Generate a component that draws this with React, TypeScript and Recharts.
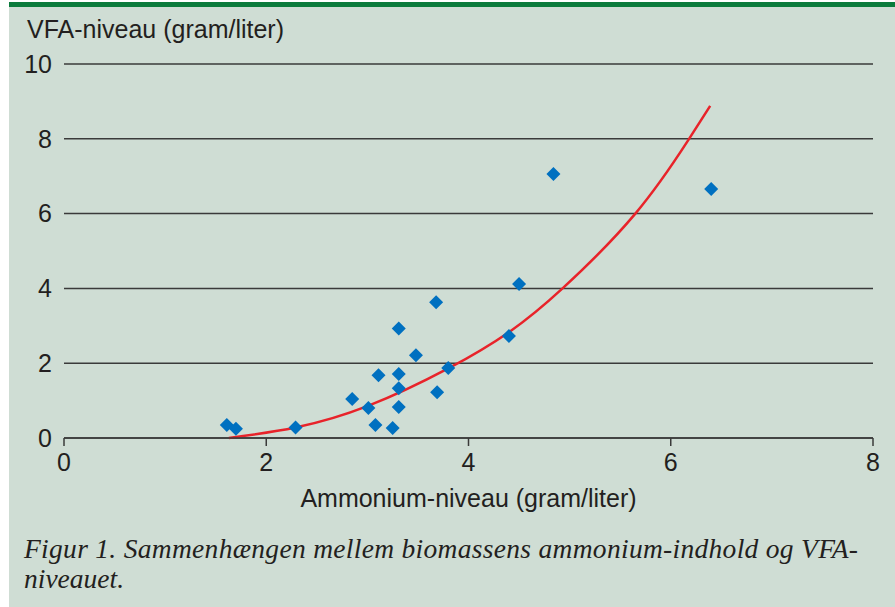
import {
  ComposedChart,
  Scatter,
  Line,
  XAxis,
  YAxis,
  CartesianGrid,
} from "recharts";

// measured points: ammonium (x) vs VFA (y), g/l
const ammonium = [
  1.61, 1.7, 2.29, 2.85, 3.01, 3.08, 3.11, 3.25, 3.31, 3.31, 3.31, 3.31, 3.48,
  3.68, 3.69, 3.8, 4.4, 4.5, 4.84, 6.4,
];
const vfa = [
  0.35, 0.25, 0.28, 1.04, 0.8, 0.35, 1.68, 0.27, 2.93, 1.71, 1.33, 0.83, 2.21,
  3.63, 1.22, 1.87, 2.73, 4.12, 7.06, 6.66,
];

// trend line
const trendX = [1.63, 2.29, 3.0, 3.8, 4.41, 4.93, 5.65, 6.17, 6.39];
const trendY = [0.0, 0.28, 0.85, 1.86, 2.85, 4.0, 6.0, 7.95, 8.88];

const xTicks = [0, 2, 4, 6, 8];
const yTicks = [0, 2, 4, 6, 8, 10];

const points = ammonium.map((x, i) => ({ x, y: vfa[i] }));
const trend = trendX.map((x, i) => ({ x, y: trendY[i] }));

const FONT = '"Liberation Sans", Arial, Helvetica, sans-serif';
const SERIF = '"Liberation Serif", "Times New Roman", serif';
const INK = "#231f20";

function Diamond(props: any) {
  const { cx, cy } = props;
  const r = 7;
  return (
    <polygon
      points={`${cx},${cy - r} ${cx + r},${cy} ${cx},${cy + r} ${cx - r},${cy}`}
      fill="#0070c0"
    />
  );
}

export default function App() {
  return (
    <div
      style={{
        position: "absolute",
        left: 0,
        top: 0,
        width: 895,
        height: 607,
        background: "#ffffff",
      }}
    >
      <svg
        width={895}
        height={607}
        style={{ position: "absolute", left: 0, top: 0 }}
      >
        <rect x={9} y={7} width={886} height={600} fill="#cfddd4" />
        <rect x={9} y={2} width={886} height={5} fill="#0b7b3c" />
        <text x={27} y={38} fontFamily={FONT} fontSize={25} fill={INK}>
          VFA-niveau (gram/liter)
        </text>
        <text
          x={24}
          y={558}
          fontFamily={SERIF}
          fontStyle="italic"
          fontSize={27.5}
          fill={INK}
          textLength={834}
          lengthAdjust="spacing"
        >
          Figur 1. Sammenhængen mellem biomassens ammonium-indhold og VFA-
        </text>
        <text
          x={24}
          y={588}
          fontFamily={SERIF}
          fontStyle="italic"
          fontSize={27.5}
          fill={INK}
        >
          niveauet.
        </text>
      </svg>
      <div style={{ position: "absolute", left: 0, top: 0 }}>
        <ComposedChart
          width={895}
          height={607}
          margin={{ top: 64, right: 22, bottom: 94, left: 10 }}
        >
          <CartesianGrid
            vertical={false}
            stroke="#3a3a3a"
            strokeWidth={1.5}
          />
          <XAxis
            type="number"
            dataKey="x"
            domain={[0, 8]}
            ticks={xTicks}
            allowDataOverflow
            height={75}
            stroke="#3a3a3a"
            strokeWidth={1.5}
            tickSize={8}
            tickMargin={7}
            tick={{ fill: INK, fontSize: 25, fontFamily: FONT }}
            label={{
              value: "Ammonium-niveau (gram/liter)",
              position: "insideBottom",
              offset: 6,
              fill: INK,
              fontSize: 25,
              fontFamily: FONT,
            }}
          />
          <YAxis
            type="number"
            dataKey="y"
            domain={[0, 10]}
            ticks={yTicks}
            width={54}
            axisLine={false}
            tickLine={false}
            tickSize={6}
            tickMargin={6}
            tick={{ fill: INK, fontSize: 25, fontFamily: FONT }}
          />
          <Line
            data={trend}
            dataKey="y"
            type="natural"
            stroke="#e8232a"
            strokeWidth={2.5}
            dot={false}
            activeDot={false}
            isAnimationActive={false}
          />
          <Scatter
            data={points}
            dataKey="y"
            shape={<Diamond />}
            isAnimationActive={false}
          />
        </ComposedChart>
      </div>
    </div>
  );
}
